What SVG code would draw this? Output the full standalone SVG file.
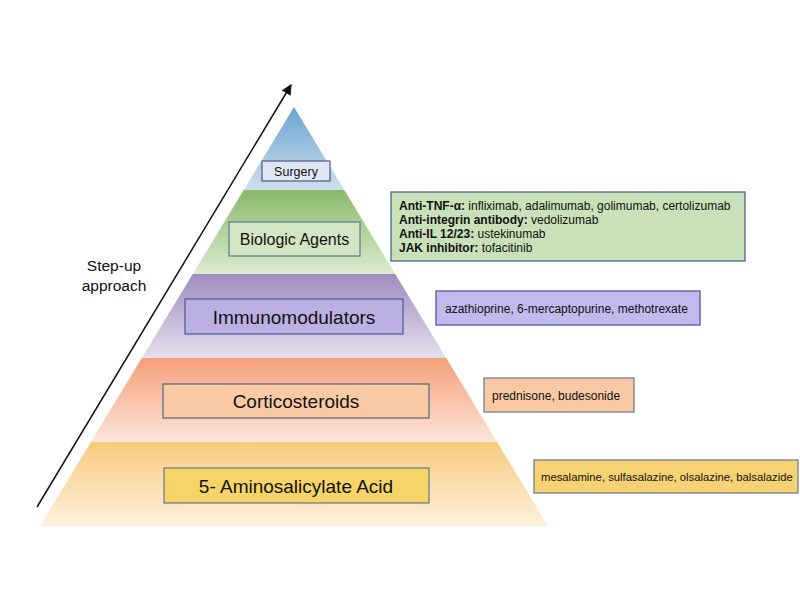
<svg xmlns="http://www.w3.org/2000/svg" width="800" height="600" viewBox="0 0 800 600">
<defs>
<linearGradient id="gBlue" x1="0" y1="0" x2="0" y2="1"><stop offset="0" stop-color="#6aa3cf"/><stop offset="1" stop-color="#cfe0ee"/></linearGradient>
<linearGradient id="gGreen" x1="0" y1="0" x2="0" y2="1"><stop offset="0" stop-color="#8bb96c"/><stop offset="1" stop-color="#dcebd0"/></linearGradient>
<linearGradient id="gPurple" x1="0" y1="0" x2="0" y2="1"><stop offset="0" stop-color="#9e8cbf"/><stop offset="1" stop-color="#e3e0ee"/></linearGradient>
<linearGradient id="gOrange" x1="0" y1="0" x2="0" y2="1"><stop offset="0" stop-color="#f49f78"/><stop offset="1" stop-color="#fde6da"/></linearGradient>
<linearGradient id="gYellow" x1="0" y1="0" x2="0" y2="1"><stop offset="0" stop-color="#f8ca7c"/><stop offset="1" stop-color="#fdf1de"/></linearGradient>
<marker id="ah" viewBox="0 0 10 10" refX="9" refY="5" markerWidth="7" markerHeight="7" orient="auto"><path d="M0,0 L10,5 L0,10 z" fill="#111"/></marker>
</defs>
<style>
text{font-family:"Liberation Sans",Arial,sans-serif;fill:#111}
.lbl{font-size:19px;text-anchor:middle}
.side{font-size:12px}
.box{stroke-width:1.2}
.b{font-weight:bold}
</style>
<rect width="800" height="600" fill="#fff"/>
<g id="tiers">
<polygon points="294,107 344.3,190 243.7,190" fill="url(#gBlue)"/>
<polygon points="243.7,190 344.3,190 395.2,274 192.8,274" fill="url(#gGreen)"/>
<polygon points="192.8,274 395.2,274 446.2,358 141.8,358" fill="url(#gPurple)"/>
<polygon points="141.8,358 446.2,358 497.1,442 90.9,442" fill="url(#gOrange)"/>
<polygon points="90.9,442 497.1,442 548,526 40,526" fill="url(#gYellow)"/>
</g>
<g id="connectors">
<line x1="37" y1="507" x2="291" y2="85" stroke="#111" stroke-width="1.5" marker-end="url(#ah)"/>
</g>
<g id="stepup">
<text x="114" y="271" font-size="15.5" text-anchor="middle" fill="#333">Step-up</text>
<text x="114" y="291" font-size="15.5" text-anchor="middle" fill="#333">approach</text>
</g>
<g id="surgery">
<rect class="box" x="262" y="161" width="68" height="20" fill="#dfe6f4" stroke="#4a5a8a"/>
<text x="296" y="176" font-size="12.5" text-anchor="middle">Surgery</text>
</g>
<g id="biologic">
<rect class="box" x="229" y="222" width="131" height="34" fill="#d3e6c4" stroke="#5a7a8a"/>
<text class="lbl" x="294.5" y="245" style="font-size:16px">Biologic Agents</text>
</g>
<g id="immuno">
<rect class="box" x="185" y="299" width="218" height="35" fill="#bab0e2" stroke="#4a5a9a"/>
<text class="lbl" x="294" y="324">Immunomodulators</text>
</g>
<g id="cortico">
<rect class="box" x="163" y="384" width="266" height="34" fill="#f9caa4" stroke="#556677"/>
<text class="lbl" x="296" y="408">Corticosteroids</text>
</g>
<g id="asa">
<rect class="box" x="164" y="468" width="265" height="35" fill="#f6d466" stroke="#667788"/>
<text class="lbl" x="296" y="493">5- Aminosalicylate Acid</text>
</g>
<g id="biologic-drugs">
<rect class="box" x="391" y="192" width="354" height="69" fill="#c9e1b9" stroke="#3a5a8a"/>
<text class="side" x="399" y="210"><tspan class="b">Anti-TNF-α:</tspan> infliximab, adalimumab, golimumab, certolizumab</text>
<text class="side" x="399" y="224"><tspan class="b">Anti-integrin antibody:</tspan> vedolizumab</text>
<text class="side" x="399" y="238"><tspan class="b">Anti-IL 12/23:</tspan> ustekinumab</text>
<text class="side" x="399" y="252"><tspan class="b">JAK inhibitor:</tspan> tofacitinib</text>
</g>
<g id="immuno-drugs">
<rect class="box" x="436" y="291" width="264" height="34" fill="#c2baed" stroke="#4a4a9a"/>
<text class="side" x="445" y="313">azathioprine, 6-mercaptopurine, methotrexate</text>
</g>
<g id="cortico-drugs">
<rect class="box" x="484" y="378" width="150" height="34" fill="#f9c9a3" stroke="#667788"/>
<text class="side" x="492" y="400">prednisone, budesonide</text>
</g>
<g id="asa-drugs">
<rect class="box" x="534" y="460" width="264" height="33" fill="#f6d272" stroke="#667788"/>
<text class="side" x="541" y="481" style="font-size:11.3px">mesalamine, sulfasalazine, olsalazine, balsalazide</text>
</g>
</svg>
